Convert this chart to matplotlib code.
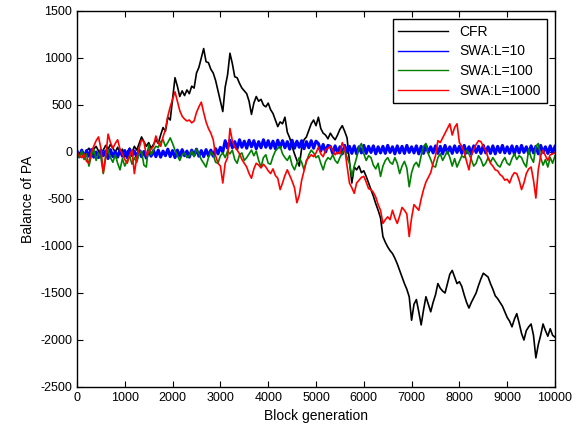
import numpy as np
import matplotlib
matplotlib.use("Agg")
import matplotlib.pyplot as plt

plt.rcParams['font.family'] = ['Liberation Sans', 'DejaVu Sans']
plt.rcParams['axes.unicode_minus'] = False

# valores, um ponto a cada 50 blocos
cfr = [0, -30, 20, -40, 10, 40, -20, 30, 60, 10, -40, 20, 70, 30, 80, 40, 0, 50, -20, 30,
       -50, 0, 40, -10, 60, 20, 90, 160, 110, 60, 100, 40, 80, 130, 90, 180, 260, 220, 370, 340,
       560, 790, 700, 590, 650, 600, 660, 620, 700, 680, 840, 900, 1000, 1100, 960, 950, 880, 840, 760, 650,
       540, 430, 690, 820, 1050, 940, 800, 790, 730, 680, 650, 620, 540, 400, 520, 590, 540, 560, 500, 480,
       520, 450, 410, 340, 270, 320, 300, 370, 210, 150, 60, -20, -90, -150, 40, 130, 160, 230, 300, 340,
       280, 370, 250, 200, 180, 140, 200, 160, 130, 180, 240, 280, 220, 150, -100, -330, -160, -190, -150, -220,
       -200, -260, -330, -400, -470, -550, -620, -700, -900, -960, -1010, -1050, -1080, -1130, -1190, -1260, -1330, -1400, -1460, -1540,
       -1790, -1620, -1570, -1700, -1840, -1680, -1540, -1620, -1700, -1600, -1520, -1400, -1450, -1480, -1500, -1400, -1300, -1260, -1330, -1400,
       -1380, -1430, -1520, -1600, -1660, -1600, -1550, -1500, -1420, -1350, -1290, -1310, -1330, -1400, -1460, -1530, -1560, -1600, -1640, -1700,
       -1760, -1800, -1860, -1780, -1720, -1820, -1930, -2000, -1900, -1860, -1830, -1950, -2190, -2050, -1950, -1830, -1900, -1960, -1880, -1950,
       -1970]

swa10 = [10, -50, 20, -60, 15, -45, 25, -55, 0, -60, 20, -40, 10, -70, 25, -50, 5, -55, 20, -45,
         15, -60, 30, -40, 10, -55, 20, -50, 5, -65, 25, -45, 15, -50, 20, -55, 10, -40, 30, -50,
         15, -60, 20, -45, 25, -40, 10, -55, 20, -35, 30, -45, 15, -50, 25, -40, 20, -45,
         35, -20, 50, 0,
         120, 40, 125, 45, 110, 35, 130, 50, 115, 40, 125, 55, 120, 35, 110, 45, 130, 50, 120, 40,
         115, 35, 125, 50, 120, 45, 110, 30, 125, 40, 115, 50, 120, 35, 110, 45, 120, 40, 115,
         90, 10, 80, 0, 70,
         60, -15, 65, -10, 55, -20, 70, -5, 60, -15, 65, -20, 55, -10, 70, -15, 60, -5, 65, -20,
         55, -10, 60, -15, 70, -5, 55, -20, 65, -10, 60, -15, 70, -5, 55, -10, 65, -20, 60, -15,
         70, -5, 55, -10, 65, -15, 60, -20, 70, -10, 55, -15, 65, -5, 60, -15, 70, -10, 55, -20,
         65, -5, 60, -15, 70, -10, 55, -15, 65, -20, 60, -5, 70, -10, 55, -15, 65, -20, 60, -10,
         70, -5, 55, -15, 65, -10, 60, -20, 70, -5, 55, -15, 65, -10, 60]

swa100 = [-20, -60, 10, -80, -20, -150, -40, 30, -90, -10, -60, -230, -40, 20, -60, -110, -30, -120, -190, -70,
          -150, -90, -40, -130, -60, -110, -20, 10, -140, -160, 80, -30, 20, 60, 50, 110, 130, 60, 100, 150,
          90, 20, -40, -90, -30, -10, -60, -40, 10, -50, 30, -20, -80, -120, -160, -60, 0, -30, -110, -120,
          -40, -10, -60, 10, -20, 20, -80, -120, -30, -10, -90, -60, -20, 20, -40, 10, -90, -160, -60, -30,
          -120, -130, -50, 10, 40, 60, -20, -60, -90, -40, -140, -190, -120, -60, -110, -190, -100, -30, 20, -10,
          -60, -40, -120, -190, -100, -60, -80, -30, -90, -120, -60, -10, 30, -60, -120, -260, -150, -60, 50, 90,
          -20, -90, -40, -60, -140, -180, -120, -260, -150, -90, -60, -110, -130, -60, -120, -230, -150, -100, -170, -370,
          -220, -140, -110, -160, -40, 60, 90, -20, -80, -150, -160, -60, -20, -90, -40, 10, -60, -150, -70, -160,
          -100, -40, -60, 20, -20, -80, -150, -120, -40, -80, -150, -120, -60, -110, -60, -100, -140, -160, -100, -60,
          -120, -140, -70, -20, -80, -40, -60, -120, -160, 30, -60, -110, 60, 90, -60, -140, -80, -160, -60, -120,
          -40]

swa1000 = [0, -40, -60, -20, -100, -120, 0, 60, 120, 160, 40, -220, -60, 190, 100, 40, 90, 130, 30, -20,
           -80, -120, -40, 20, -230, -60, 40, 130, 110, -40, 0, 30, 60, 170, 100, 60, 160, 240, 380, 480,
           560, 640, 540, 440, 380, 350, 330, 340, 310, 330, 420, 480, 530, 420, 320, 250, 200, 130, -40, -120,
           -150, -330, -120, -60, 250, 120, 50, 20, -20, -80, -120, -160, -230, -280, -180, -120, -140, -170, -130, -160,
           -200, -230, -180, -250, -280, -400, -330, -250, -190, -250, -310, -380, -540, -460, -300, -200, -90, -60, -30, -50,
           -10, 50, -20, -50, 20, 40, 60, 20, -30, 0, -20, 100, 40, -150, -330, -380, -440, -330, -300, -270,
           -260, -320, -390, -400, -430, -480, -560, -620, -760, -720, -690, -720, -620, -700, -760, -680, -590, -620, -660, -900,
           -700, -560, -590, -620, -500, -400, -320, -270, -220, -120, -40, 120, 100, 150, 200, 250, 300, 180, 260, 300,
           100, 60, 0, -100, -190, -40, 30, 80, 120, 110, 60, 20, -60, -120, -150, -190, -200, -240, -260, -300,
           -290, -330, -260, -220, -230, -300, -400, -330, -230, -180, -160, -300, -490, -190, -40, 20, -40, -90, -30, -20,
           -10]

series = [
    ("CFR", cfr, "black", 1.2),
    ("SWA:L=10", swa10, "#0000ff", 2.2),
    ("SWA:L=100", swa100, "#008000", 1.2),
    ("SWA:L=1000", swa1000, "#ff0000", 1.2),
]

fig = plt.figure(figsize=(5.82, 4.32), dpi=100)
ax = fig.add_axes([0.1323, 0.1042, 0.8213, 0.8704])

for nome, valores, cor, lw in series:
    x = np.linspace(0, 10000, len(valores))
    ln, = ax.plot(x, valores, color=cor, linewidth=lw)
    # linha fina so para a legenda
    ax.plot([], [], color=cor, linewidth=1.0, label=nome)

ax.set_xlim(0, 10000)
ax.set_ylim(-2500, 1500)
ax.set_xticks(np.arange(0, 10001, 1000))
ax.set_yticks(np.arange(-2500, 1501, 500))
ax.tick_params(direction='in', top=True, right=True, length=4, labelsize=9)
for s in ax.spines.values():
    s.set_linewidth(1.0)
ax.set_xlabel("Block generation", fontsize=10)
ax.set_ylabel("Balance of PA", fontsize=10)

leg = ax.legend(loc='upper right', fontsize=10, frameon=True, fancybox=False,
                edgecolor='black', framealpha=1, handlelength=3.6,
                borderaxespad=0.6, labelspacing=0.4)
leg.get_frame().set_linewidth(1.0)

fig.savefig("out.png", dpi=100)
